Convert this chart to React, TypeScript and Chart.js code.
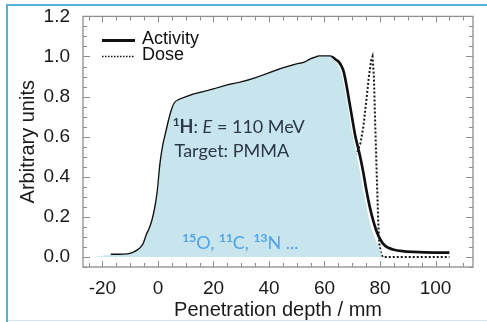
import React, { useEffect, useRef } from "react";
import { Chart, registerables } from "chart.js";

Chart.register(...registerables);

// ---- data ----
const ACT_X = [-17, -14, -11, -9, -7, -6, -5, -4, -3, -2, -1, 0, 1, 2, 3, 4, 5, 6, 8, 10, 13, 16, 20, 25, 30, 35, 40, 45, 50, 53, 55, 57, 58, 60, 62, 63, 64, 65, 66, 67, 68, 69, 70, 71, 72, 73, 74, 75, 76, 77, 78, 79, 80, 81, 82, 83, 85, 88, 92, 100, 105];
const ACT_Y = [0.01, 0.01, 0.012, 0.02, 0.035, 0.048, 0.07, 0.11, 0.14, 0.18, 0.24, 0.33, 0.47, 0.56, 0.62, 0.68, 0.73, 0.765, 0.785, 0.795, 0.81, 0.82, 0.835, 0.855, 0.87, 0.89, 0.915, 0.94, 0.96, 0.97, 0.985, 0.995, 1.0, 1.0, 1.0, 0.995, 0.985, 0.975, 0.955, 0.92, 0.85, 0.77, 0.69, 0.61, 0.55, 0.49, 0.42, 0.34, 0.27, 0.21, 0.16, 0.12, 0.09, 0.068, 0.054, 0.046, 0.036, 0.029, 0.025, 0.022, 0.022];

const DOSE_X = [0, 5, 10, 15, 20, 25, 30, 35, 40, 45, 50, 55, 60, 63, 66, 68, 70, 72, 73, 74, 75, 76, 76.8, 77.3, 77.8, 78.3, 78.8, 79.3, 79.7, 80.3, 81, 90, 100, 105];
const DOSE_Y = [0.215, 0.225, 0.235, 0.24, 0.25, 0.258, 0.265, 0.27, 0.28, 0.295, 0.31, 0.335, 0.37, 0.4, 0.43, 0.46, 0.49, 0.53, 0.57, 0.65, 0.77, 0.9, 0.98, 1.0, 0.9, 0.65, 0.42, 0.2, 0.07, 0.02, 0.0, 0.0, 0.0, 0.0];

const FILL_X = [-23, -17, -14, -11, -9, -7, -6, -5, -4, -3, -2, -1, 0, 1, 2, 3, 4, 5, 6, 8, 10, 13, 16, 20, 25, 30, 35, 40, 45, 50, 53, 55, 57, 58, 60, 62, 63, 64, 65, 66, 67, 68, 69, 70, 71, 72, 73, 74, 75, 76, 77, 78, 79, 80, 80.6];
const FILL_Y = [0.0, 0.01, 0.01, 0.012, 0.02, 0.035, 0.048, 0.07, 0.11, 0.14, 0.18, 0.24, 0.33, 0.47, 0.56, 0.62, 0.68, 0.73, 0.765, 0.785, 0.795, 0.81, 0.82, 0.835, 0.855, 0.87, 0.89, 0.915, 0.94, 0.96, 0.97, 0.985, 0.995, 1.0, 1.0, 1.0, 0.99, 0.975, 0.955, 0.92, 0.86, 0.78, 0.7, 0.62, 0.55, 0.48, 0.41, 0.33, 0.26, 0.19, 0.14, 0.1, 0.065, 0.035, 0.0];

const X_TICKS = [-20, 0, 20, 40, 60, 80, 100];
const Y_TICKS = [0, 0.2, 0.4, 0.6, 0.8, 1.0, 1.2];
const X_MIN = -27;
const X_MAX = 113.5;
const Y_MIN = -0.05;
const Y_MAX = 1.2;
const X_MINOR = 5;
const Y_MINOR = 0.05;

const X_TITLE = "Penetration depth / mm";
const Y_TITLE = "Arbitrary units";
const LABEL_ACT = "Activity";
const LABEL_DOSE = "Dose";
const NOTE_BEAM = [
  { t: "1", style: "sup" },
  { t: "H", style: "bold" },
  { t: ": ", style: "normal" },
  { t: "E", style: "italic" },
  { t: " = 110 MeV", style: "normal" },
];
const NOTE_TARGET = [{ t: "Target: PMMA", style: "normal" }];
const NOTE_ISOTOPES = [
  { t: "15", style: "sup" },
  { t: "O, ", style: "normal" },
  { t: "11", style: "sup" },
  { t: "C, ", style: "normal" },
  { t: "13", style: "sup" },
  { t: "N ...", style: "normal" },
];

const toPts = (xs: number[], ys: number[]) => xs.map((x, i) => ({ x, y: ys[i] }));

const FONT = "'Liberation Sans', Arial, sans-serif";
const NOTE_FONT = "Lato, 'Open Sans', sans-serif";

function drawRich(ctx: CanvasRenderingContext2D, x: number, y: number, segs: { t: string; style: string }[], size: number) {
  let cx = x;
  for (const s of segs) {
    let dy = 0;
    if (s.style === "sup") {
      ctx.font = `bold ${Math.round(size * 0.65)}px ${NOTE_FONT}`;
      dy = -size * 0.38;
    } else if (s.style === "bold") {
      ctx.font = `bold ${size}px ${NOTE_FONT}`;
    } else if (s.style === "italic") {
      ctx.font = `italic ${size}px ${NOTE_FONT}`;
    } else {
      ctx.font = `${size}px ${NOTE_FONT}`;
    }
    ctx.fillText(s.t, cx, y + dy);
    cx += ctx.measureText(s.t).width;
  }
}

const framePlugin = {
  id: "frame",
  afterDatasetsDraw(chart: any) {
    const { ctx, chartArea: a, scales } = chart;
    const xs = scales.x;
    const ys = scales.y;
    ctx.save();
    ctx.strokeStyle = "#8e8e8e";
    ctx.lineWidth = 1.3;
    ctx.strokeRect(a.left, a.top, a.right - a.left, a.bottom - a.top);
    ctx.lineWidth = 1;
    const seg = (x1: number, y1: number, x2: number, y2: number) => {
      ctx.beginPath();
      ctx.moveTo(x1, y1);
      ctx.lineTo(x2, y2);
      ctx.stroke();
    };
    const i0 = Math.ceil(X_MIN / X_MINOR);
    const i1 = Math.floor(X_MAX / X_MINOR);
    for (let i = i0; i <= i1; i++) {
      const v = i * X_MINOR;
      const px = Math.round(xs.getPixelForValue(v)) + 0.5;
      const major = X_TICKS.includes(v);
      const len = major ? 6 : 4;
      seg(px, a.bottom, px, a.bottom - len);
      seg(px, a.top, px, a.top + len);
    }
    const j0 = Math.ceil(Y_MIN / Y_MINOR - 1e-6);
    const j1 = Math.floor(Y_MAX / Y_MINOR + 1e-6);
    for (let j = j0; j <= j1; j++) {
      const v = j * Y_MINOR;
      const py = Math.round(ys.getPixelForValue(v)) + 0.5;
      const major = Y_TICKS.some((t) => Math.abs(t - v) < 1e-6);
      const len = major ? 7 : 4;
      seg(a.left, py, a.left + len, py);
      seg(a.right, py, a.right - len, py);
    }
    ctx.restore();
  },
};

const legendPlugin = {
  id: "innerLegend",
  afterDraw(chart: any) {
    const { ctx, chartArea: a } = chart;
    const items = chart.data.datasets
      .filter((d: any) => d.legendOrder !== undefined)
      .sort((p: any, q: any) => p.legendOrder - q.legendOrder);
    ctx.save();
    items.forEach((d: any, i: number) => {
      const yy = a.top + 24 + i * 16;
      ctx.strokeStyle = "#111";
      ctx.lineWidth = d.legendWidth;
      ctx.setLineDash(d.legendDash);
      ctx.beginPath();
      ctx.moveTo(a.left + 19, yy);
      ctx.lineTo(a.left + 52, yy);
      ctx.stroke();
      ctx.setLineDash([]);
      ctx.fillStyle = "#111";
      ctx.font = `18px ${FONT}`;
      ctx.textBaseline = "middle";
      ctx.textAlign = "left";
      ctx.fillText(d.label, a.left + 59, yy - 1);
    });
    ctx.restore();
  },
};

const notesPlugin = {
  id: "notes",
  afterDatasetsDraw(chart: any) {
    const { ctx, scales } = chart;
    const xs = scales.x;
    const ys = scales.y;
    ctx.save();
    ctx.textBaseline = "alphabetic";
    ctx.textAlign = "left";
    ctx.fillStyle = "#2b3846";
    drawRich(ctx, xs.getPixelForValue(5.3), ys.getPixelForValue(0.62), NOTE_BEAM, 18);
    drawRich(ctx, xs.getPixelForValue(6.0), ys.getPixelForValue(0.5), NOTE_TARGET, 18);
    ctx.fillStyle = "#4ea3ea";
    drawRich(ctx, xs.getPixelForValue(8.8), ys.getPixelForValue(0.04), NOTE_ISOTOPES, 18);
    ctx.restore();
  },
};

export default function App() {
  const ref = useRef<HTMLCanvasElement | null>(null);

  useEffect(() => {
    if (!ref.current) return;
    const chart = new Chart(ref.current, {
      type: "line",
      data: {
        datasets: [
          {
            label: "fill",
            data: toPts(FILL_X, FILL_Y),
            borderWidth: 0,
            pointRadius: 0,
            backgroundColor: "#c8e4ec",
            borderColor: "rgba(0,0,0,0)",
            fill: "origin",
            cubicInterpolationMode: "monotone",
          } as any,
          {
            label: LABEL_DOSE,
            data: toPts(DOSE_X, DOSE_Y),
            borderColor: "#1a1a1a",
            borderWidth: 2,
            borderDash: [2, 2],
            pointRadius: 0,
            fill: false,
            legendOrder: 1,
            legendWidth: 1.5,
            legendDash: [1.5, 1.5],
          } as any,
          {
            label: LABEL_ACT,
            data: toPts(ACT_X, ACT_Y),
            borderColor: "#111",
            borderWidth: 2.7,
            pointRadius: 0,
            fill: false,
            cubicInterpolationMode: "monotone",
            legendOrder: 0,
            legendWidth: 3,
            legendDash: [],
          } as any,
        ],
      },
      options: {
        responsive: false,
        animation: false,
        devicePixelRatio: 1,
        layout: { padding: { left: 0, right: 14, top: 9, bottom: 0 } },
        plugins: { legend: { display: false }, tooltip: { enabled: false } },
        scales: {
          x: {
            type: "linear",
            min: X_MIN,
            max: X_MAX,
            grid: { display: false },
            border: { display: false },
            afterBuildTicks: (s: any) => {
              s.ticks = X_TICKS.map((v) => ({ value: v }));
            },
            afterFit: (s: any) => {
              s.height = 55;
            },
            ticks: {
              padding: 2,
              color: "#1a1a1a",
              font: { family: FONT, size: 19 },
              maxRotation: 0,
              callback: (v: any) => String(v),
            },
            title: {
              display: true,
              text: X_TITLE,
              color: "#1a1a1a",
              font: { family: FONT, size: 20 },
              padding: { top: 0, bottom: 0 },
            },
          },
          y: {
            type: "linear",
            min: Y_MIN,
            max: Y_MAX,
            grid: { display: false },
            border: { display: false },
            afterBuildTicks: (s: any) => {
              s.ticks = Y_TICKS.map((v) => ({ value: v }));
            },
            afterFit: (s: any) => {
              s.width = 83;
            },
            ticks: {
              padding: 5,
              color: "#1a1a1a",
              font: { family: FONT, size: 19 },
              callback: (v: any) => Number(v).toFixed(1),
            },
            title: {
              display: true,
              text: Y_TITLE,
              color: "#1a1a1a",
              font: { family: FONT, size: 20 },
              padding: { top: 16, bottom: 0 },
            },
          },
        },
      },
      plugins: [framePlugin, notesPlugin, legendPlugin],
    });
    return () => chart.destroy();
  }, []);

  return (
    <div style={{ position: "fixed", left: 0, top: 0, width: 487, height: 322, background: "#fff" }}>
      <canvas ref={ref} width={487} height={322} style={{ position: "absolute", left: 0, top: 0 }} />
      <div style={{ position: "absolute", left: 6, top: 4, width: 481, height: 2, background: "#55b1d6" }} />
      <div style={{ position: "absolute", left: 6, top: 4, width: 2, height: 318, background: "#55b1d6" }} />
      <div style={{ position: "absolute", left: 8, top: 320, width: 479, height: 1, background: "#d2e6ee" }} />
    </div>
  );
}
